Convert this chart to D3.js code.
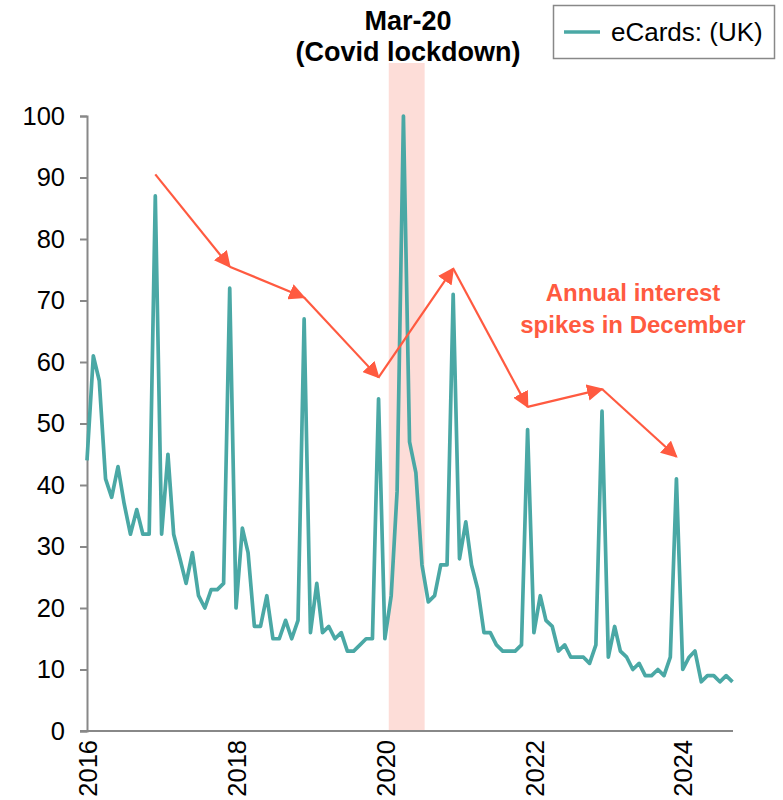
<!DOCTYPE html>
<html>
<head>
<meta charset="utf-8">
<script src="https://cdn.jsdelivr.net/npm/d3@7"></script>
<style>
  html, body { margin: 0; padding: 0; background: #fff; }
  svg { display: block; font-family: "Liberation Sans", Arial, sans-serif; }
</style>
</head>
<body>
<svg id="chart" width="783" height="800"></svg>
<script>
// Monthly search interest for eCards in the UK, Jan 2016 – Sep 2024
const startMonth = "2016-01";
const interest = [
  44, 61, 57, 41, 38, 43, 37, 32, 36, 32, 32, 87,
  32, 45, 32, 28, 24, 29, 22, 20, 23, 23, 24, 72,
  20, 33, 29, 17, 17, 22, 15, 15, 18, 15, 18, 67,
  16, 24, 16, 17, 15, 16, 13, 13, 14, 15, 15, 54,
  15, 22, 39, 100, 47, 42, 27, 21, 22, 27, 27, 71,
  28, 34, 27, 23, 16, 16, 14, 13, 13, 13, 14, 49,
  16, 22, 18, 17, 13, 14, 12, 12, 12, 11, 14, 52,
  12, 17, 13, 12, 10, 11, 9, 9, 10, 9, 12, 41,
  10, 12, 13, 8, 9, 9, 8, 9, 8
];
const yTicks = [0, 10, 20, 30, 40, 50, 60, 70, 80, 90, 100];
const xTickYears = [2016, 2018, 2020, 2022, 2024];

// December peaks joined by the annotation arrows
const peakDates = ["2016-12", "2017-12", "2018-12", "2019-12", "2020-12", "2021-12", "2022-12", "2023-12"];
const peakLevels = [90.5, 75.5, 70.5, 57.5, 75.2, 52.7, 55.6, 44.6];

// Lockdown band
const lockdownStart = "2020-01-20";
const lockdownEnd = "2020-07-14";

const seriesName = "eCards: (UK)";
const lineColor = "#4AA8A5";
const arrowColor = "#FF5A40";
const tickFont = 25.5;

const parseMonth = d3.timeParse("%Y-%m");
const parseDay = d3.timeParse("%Y-%m-%d");
const firstMonth = parseMonth(startMonth);
const data = interest.map((v, i) => ({ date: d3.timeMonth.offset(firstMonth, i), value: v }));

const svg = d3.select("#chart");
const plotLeft = 87, plotRight = 733, plotTop = 116, plotBottom = 731;

const x = d3.scaleTime()
  .domain([firstMonth, d3.timeMonth.offset(firstMonth, 104)])
  .range([plotLeft, plotRight - 0.5]);
const y = d3.scaleLinear().domain([0, 100]).range([plotBottom, plotTop]);

// Covid lockdown shading
svg.append("rect")
  .attr("x", x(parseDay(lockdownStart)))
  .attr("width", x(parseDay(lockdownEnd)) - x(parseDay(lockdownStart)))
  .attr("y", 63)
  .attr("height", plotBottom - 63)
  .attr("fill", "#FDDDD8");

// Y axis
const yAxis = svg.append("g")
  .attr("transform", `translate(${plotLeft},0)`)
  .call(d3.axisLeft(y).tickValues(yTicks).tickSize(7).tickPadding(15));
yAxis.select(".domain").attr("stroke", "#888").attr("stroke-width", 2);
yAxis.selectAll(".tick line").attr("stroke", "#888").attr("stroke-width", 2);
yAxis.selectAll(".tick text")
  .attr("fill", "#000").attr("font-size", tickFont)
  .attr("font-family", "Liberation Sans, Arial, sans-serif");

// X axis
const xAxis = svg.append("g")
  .attr("transform", `translate(0,${plotBottom})`)
  .call(d3.axisBottom(x)
    .tickValues(xTickYears.map(yr => new Date(yr, 0, 1)))
    .tickFormat(d3.timeFormat("%Y"))
    .tickSize(0));
xAxis.select(".domain").attr("stroke", "#888").attr("stroke-width", 2)
  .attr("d", `M${plotLeft - 7},0H${plotRight}`);
xAxis.selectAll(".tick text")
  .attr("fill", "#000").attr("font-size", tickFont)
  .attr("font-family", "Liberation Sans, Arial, sans-serif")
  .attr("transform", "rotate(-90)")
  .attr("text-anchor", "end")
  .attr("x", -9).attr("y", 0).attr("dy", "0.36em");

// Series line
svg.append("path")
  .datum(data)
  .attr("fill", "none")
  .attr("stroke", lineColor)
  .attr("stroke-width", 3.7)
  .attr("stroke-linejoin", "round")
  .attr("d", d3.line().x(d => x(d.date)).y(d => y(d.value)));

// Arrows between yearly peaks
const defs = svg.append("defs");
defs.append("marker")
  .attr("id", "arrowhead")
  .attr("viewBox", "0 0 10 10")
  .attr("refX", 9).attr("refY", 5)
  .attr("markerWidth", 7.5).attr("markerHeight", 7.5)
  .attr("markerUnits", "strokeWidth")
  .attr("orient", "auto")
  .append("path").attr("d", "M0,0L10,5L0,10Z").attr("fill", arrowColor);

const peaks = peakDates.map((d, i) => ({ date: parseMonth(d), level: peakLevels[i] }));
for (let i = 0; i < peaks.length - 1; i++) {
  const a = peaks[i], b = peaks[i + 1];
  svg.append("line")
    .attr("x1", x(a.date)).attr("y1", y(a.level))
    .attr("x2", x(b.date)).attr("y2", y(b.level))
    .attr("stroke", arrowColor)
    .attr("stroke-width", 2.2)
    .attr("marker-end", "url(#arrowhead)");
}

// Annotation texts
svg.append("text")
  .attr("x", 633).attr("y", 301)
  .attr("text-anchor", "middle")
  .attr("font-size", 24).attr("font-weight", "bold")
  .attr("fill", arrowColor)
  .selectAll("tspan").data(["Annual interest", "spikes in December"]).join("tspan")
  .attr("x", 633).attr("dy", (d, i) => i === 0 ? 0 : 32)
  .text(d => d);

svg.append("text")
  .attr("x", 408).attr("y", 30)
  .attr("text-anchor", "middle")
  .attr("font-size", 27).attr("font-weight", "bold")
  .attr("fill", "#000")
  .selectAll("tspan").data(["Mar-20", "(Covid lockdown)"]).join("tspan")
  .attr("x", 408).attr("dy", (d, i) => i === 0 ? 0 : 31)
  .text(d => d);

// Legend
const legend = svg.append("g");
legend.append("rect")
  .attr("x", 553.5).attr("y", 5.5).attr("width", 221).attr("height", 53)
  .attr("fill", "#fff").attr("stroke", "#888").attr("stroke-width", 1.5);
legend.append("line")
  .attr("x1", 564).attr("x2", 600).attr("y1", 32).attr("y2", 32)
  .attr("stroke", lineColor).attr("stroke-width", 3.7);
legend.append("text")
  .attr("x", 611).attr("y", 41)
  .attr("font-size", 26).attr("fill", "#000")
  .text(seriesName);
</script>
</body>
</html>
